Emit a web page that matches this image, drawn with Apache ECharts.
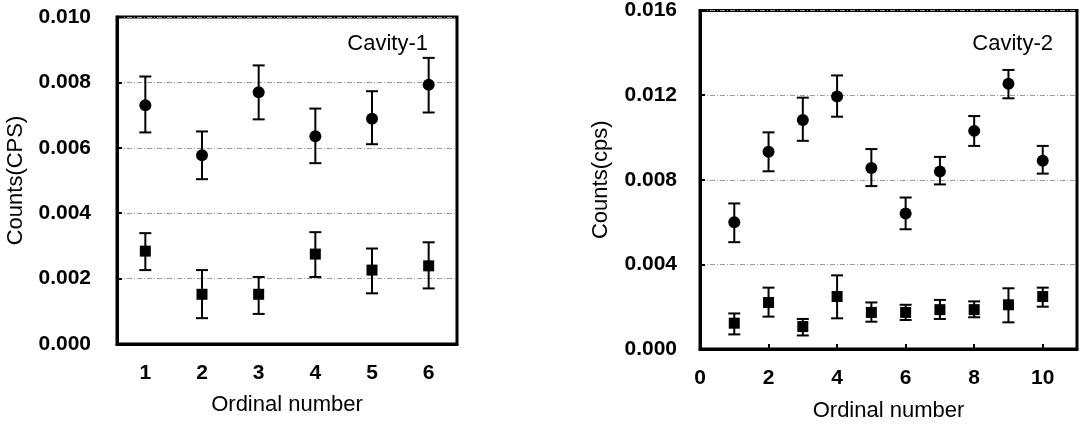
<!DOCTYPE html>
<html>
<head>
<meta charset="utf-8">
<script src="https://cdn.jsdelivr.net/npm/echarts@6/dist/echarts.min.js"></script>
<style>
  html, body { margin: 0; padding: 0; background: #fff; }
  #main { width: 1081px; height: 427px; }
</style>
</head>
<body>
<div id="main"></div>
<script>
// Cavity-1 (left)
const leftX = ['1', '2', '3', '4', '5', '6'];
const leftCircle = [0.0073, 0.00577, 0.0077, 0.00635, 0.00689, 0.00793];
const leftCircleLo = [0.00647, 0.00504, 0.00687, 0.00553, 0.00611, 0.00708];
const leftCircleHi = [0.00818, 0.0065, 0.00852, 0.0072, 0.00773, 0.00875];
const leftSquare = [0.00284, 0.00152, 0.00152, 0.00275, 0.00226, 0.00239];
const leftSquareLo = [0.00226, 0.00079, 0.00092, 0.00205, 0.00155, 0.0017];
const leftSquareHi = [0.00339, 0.00226, 0.00205, 0.00342, 0.00292, 0.00311];

// Cavity-2 (right)
const rightX = [1, 2, 3, 4, 5, 6, 7, 8, 9, 10];
const rightCircle = [0.00599, 0.00932, 0.01082, 0.01194, 0.00855, 0.00641, 0.00839, 0.01031, 0.01254, 0.0089];
const rightCircleLo = [0.00505, 0.0084, 0.00984, 0.01098, 0.0077, 0.00566, 0.00778, 0.0096, 0.01185, 0.00829];
const rightCircleHi = [0.00688, 0.01024, 0.01188, 0.01293, 0.00945, 0.00716, 0.00908, 0.01101, 0.01319, 0.0096];
const rightSquare = [0.00122, 0.0022, 0.00106, 0.00248, 0.00173, 0.00173, 0.00186, 0.00186, 0.00209, 0.00248];
const rightSquareLo = [0.00069, 0.00153, 0.00064, 0.00145, 0.00129, 0.00137, 0.00142, 0.0015, 0.00126, 0.002];
const rightSquareHi = [0.00168, 0.0029, 0.00142, 0.00348, 0.0022, 0.00209, 0.00232, 0.00225, 0.00287, 0.0029];

const tickFont = { color: '#000', fontFamily: 'Liberation Sans', fontWeight: 'bold', fontSize: 21 };
const nameFont = { color: '#000', fontFamily: 'Liberation Sans', fontWeight: 'normal', fontSize: 22 };

const chart = echarts.init(document.getElementById('main'));

// error bar: vertical line + caps
function errRender(params, api) {
  const x = api.value(0);
  const top = api.coord([x, api.value(2)]);
  const bot = api.coord([x, api.value(1)]);
  const w = 6;
  const style = { stroke: '#000', lineWidth: 2 };
  return {
    type: 'group',
    children: [
      { type: 'line', shape: { x1: top[0], y1: top[1], x2: bot[0], y2: bot[1] }, style: style },
      { type: 'line', shape: { x1: top[0] - w, y1: top[1], x2: top[0] + w, y2: top[1] }, style: style },
      { type: 'line', shape: { x1: bot[0] - w, y1: bot[1], x2: bot[0] + w, y2: bot[1] }, style: style }
    ]
  };
}

function yAxisOpt(idx, max, interval, gap, labelGap, name) {
  return {
    type: 'value', gridIndex: idx, min: 0, max: max, interval: interval,
    name: name, nameLocation: 'middle', nameGap: gap, nameTextStyle: nameFont,
    axisLine: { show: true, lineStyle: { color: '#000', width: 3 } },
    axisTick: { show: true, inside: true, length: 5, lineStyle: { color: '#000', width: 2 } },
    axisLabel: Object.assign({ margin: labelGap, formatter: v => v.toFixed(3) }, tickFont),
    splitLine: { show: true, lineStyle: { color: '#9a9a9a', width: 1, type: [5, 2, 1, 2] } }
  };
}

const option = {
  animation: false,
  backgroundColor: '#fff',
  title: [
    { text: 'Cavity-1', right: 648, top: 28, textStyle: nameFont },
    { text: 'Cavity-2', right: 23, top: 28, textStyle: nameFont }
  ],
  grid: [
    { left: 117, top: 17, width: 340, height: 327, show: true, borderColor: '#000', borderWidth: 3 },
    { left: 700, top: 10, width: 377, height: 342, show: true, borderColor: '#000', borderWidth: 3 }
  ],
  xAxis: [
    {
      type: 'category', gridIndex: 0, data: leftX, boundaryGap: true,
      name: 'Ordinal number', nameLocation: 'middle', nameGap: 50, nameTextStyle: nameFont,
      axisLine: { lineStyle: { color: '#000', width: 3 } },
      axisTick: { inside: true, length: 5, lineStyle: { color: '#000', width: 2 } },
      axisLabel: Object.assign({ margin: 19 }, tickFont),
      splitLine: { show: false }
    },
    {
      type: 'value', gridIndex: 1, min: 0, max: 11, interval: 2,
      name: 'Ordinal number', nameLocation: 'middle', nameGap: 51, nameTextStyle: nameFont,
      axisLine: { lineStyle: { color: '#000', width: 3 } },
      axisTick: { inside: true, length: 5, lineStyle: { color: '#000', width: 2 } },
      axisLabel: Object.assign({ margin: 19, showMaxLabel: false }, tickFont),
      splitLine: { show: false }
    }
  ],
  yAxis: [
    yAxisOpt(0, 0.010, 0.002, 90, 26, 'Counts(CPS)'),
    yAxisOpt(1, 0.016, 0.004, 88, 23, 'Counts(cps)')
  ],
  series: [
    {
      type: 'custom', xAxisIndex: 0, yAxisIndex: 0, renderItem: errRender, z: 2,
      data: leftX.map((c, i) => [i, leftCircleLo[i], leftCircleHi[i]])
    },
    {
      type: 'custom', xAxisIndex: 0, yAxisIndex: 0, renderItem: errRender, z: 2,
      data: leftX.map((c, i) => [i, leftSquareLo[i], leftSquareHi[i]])
    },
    {
      type: 'scatter', xAxisIndex: 0, yAxisIndex: 0, symbol: 'circle', symbolSize: 12, z: 3,
      itemStyle: { color: '#000', opacity: 1 },
      data: leftX.map((c, i) => [i, leftCircle[i]])
    },
    {
      type: 'scatter', xAxisIndex: 0, yAxisIndex: 0, symbol: 'rect', symbolSize: 11, z: 3,
      itemStyle: { color: '#000', opacity: 1 },
      data: leftX.map((c, i) => [i, leftSquare[i]])
    },
    {
      type: 'custom', xAxisIndex: 1, yAxisIndex: 1, renderItem: errRender, z: 2,
      data: rightX.map((x, i) => [x, rightCircleLo[i], rightCircleHi[i]])
    },
    {
      type: 'custom', xAxisIndex: 1, yAxisIndex: 1, renderItem: errRender, z: 2,
      data: rightX.map((x, i) => [x, rightSquareLo[i], rightSquareHi[i]])
    },
    {
      type: 'scatter', xAxisIndex: 1, yAxisIndex: 1, symbol: 'circle', symbolSize: 12, z: 3,
      itemStyle: { color: '#000', opacity: 1 },
      data: rightX.map((x, i) => [x, rightCircle[i]])
    },
    {
      type: 'scatter', xAxisIndex: 1, yAxisIndex: 1, symbol: 'rect', symbolSize: 11, z: 3,
      itemStyle: { color: '#000', opacity: 1 },
      data: rightX.map((x, i) => [x, rightSquare[i]])
    }
  ]
};

chart.setOption(option);
</script>
</body>
</html>
